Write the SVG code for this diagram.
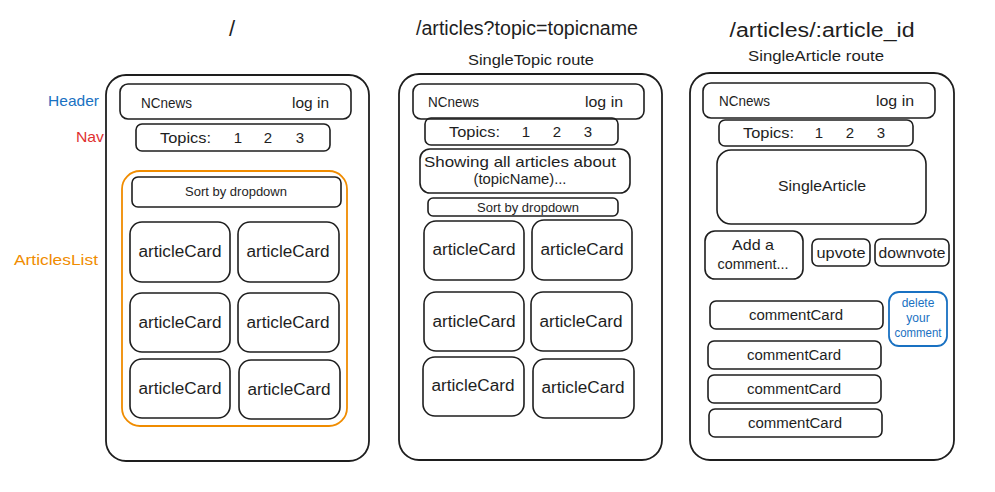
<svg xmlns="http://www.w3.org/2000/svg" width="995" height="492" viewBox="0 0 995 492">
<style>
  .box{fill:none;stroke:#1e1e1e;stroke-width:1.6}
  .frame{fill:none;stroke:#1e1e1e;stroke-width:1.8}
  text{font-family:"Liberation Sans",Arial,sans-serif;fill:#1e1e1e}
  .t16{font-size:16px}
  .t15{font-size:15px}
  .t14{font-size:14px}
  .t13{font-size:13px}
  .t12{font-size:12px}
  .mid{text-anchor:middle}
  .title{font-size:20px}
</style>
<rect width="995" height="492" fill="#ffffff"/>

<!-- labels -->
<g id="label-header"><text x="48" y="106" class="t15" fill="#1971c2" style="fill:#1971c2" textLength="51" lengthAdjust="spacingAndGlyphs">Header</text></g>
<g id="label-nav"><text x="76" y="142" class="t15" style="fill:#e03131" textLength="28" lengthAdjust="spacingAndGlyphs">Nav</text></g>
<g id="label-articleslist"><text x="14" y="265" class="t15" style="fill:#f08c00" textLength="84" lengthAdjust="spacingAndGlyphs">ArticlesList</text></g>

<!-- Panel 1: / -->
<g id="p1-title"><text x="232" y="36" class="mid" style="font-size:22px">/</text></g>
<g id="p1-frame"><rect x="106" y="75" width="263" height="386" rx="20" class="frame"/></g>
<g id="p1-header">
  <rect x="120" y="84" width="231" height="35" rx="8" class="box"/>
  <text x="141" y="108" class="t15" textLength="51" lengthAdjust="spacingAndGlyphs">NCnews</text>
  <text x="292" y="108" class="t15" textLength="37" lengthAdjust="spacingAndGlyphs">log in</text>
</g>
<g id="p1-nav">
  <rect x="136" y="124" width="194" height="27" rx="6" class="box"/>
  <text x="160" y="143" class="t15" textLength="51" lengthAdjust="spacingAndGlyphs">Topics:</text>
  <text x="238" y="143" class="t15 mid">1</text>
  <text x="268" y="143" class="t15 mid">2</text>
  <text x="300" y="143" class="t15 mid">3</text>
</g>
<g id="p1-articleslist"><rect x="122" y="171" width="225" height="255" rx="18" fill="none" stroke="#f08c00" stroke-width="1.8"/></g>
<g id="p1-sort">
  <rect x="132" y="177" width="209" height="30" rx="6" class="box"/>
  <text x="236" y="196" class="t13 mid" textLength="102" lengthAdjust="spacingAndGlyphs">Sort by dropdown</text>
</g>
<g id="p1-card1"><rect x="130" y="222" width="100" height="60" rx="12" class="box"/><text x="180" y="257" class="t16 mid" textLength="83" lengthAdjust="spacingAndGlyphs">articleCard</text></g>
<g id="p1-card2"><rect x="238" y="222" width="101" height="60" rx="12" class="box"/><text x="288" y="257" class="t16 mid" textLength="83" lengthAdjust="spacingAndGlyphs">articleCard</text></g>
<g id="p1-card3"><rect x="130" y="293" width="100" height="59" rx="12" class="box"/><text x="180" y="328" class="t16 mid" textLength="83" lengthAdjust="spacingAndGlyphs">articleCard</text></g>
<g id="p1-card4"><rect x="238" y="293" width="101" height="59" rx="12" class="box"/><text x="288" y="328" class="t16 mid" textLength="83" lengthAdjust="spacingAndGlyphs">articleCard</text></g>
<g id="p1-card5"><rect x="130" y="359" width="100" height="59" rx="12" class="box"/><text x="180" y="394" class="t16 mid" textLength="83" lengthAdjust="spacingAndGlyphs">articleCard</text></g>
<g id="p1-card6"><rect x="239" y="360" width="101" height="59" rx="12" class="box"/><text x="289" y="395" class="t16 mid" textLength="83" lengthAdjust="spacingAndGlyphs">articleCard</text></g>

<!-- Panel 2: /articles?topic=topicname -->
<g id="p2-title">
  <text x="527" y="35" class="title mid" textLength="222" lengthAdjust="spacingAndGlyphs">/articles?topic=topicname</text>
  <text x="531" y="65" class="t15 mid" textLength="126" lengthAdjust="spacingAndGlyphs">SingleTopic route</text>
</g>
<g id="p2-frame"><rect x="399" y="74" width="263" height="386" rx="20" class="frame"/></g>
<g id="p2-header">
  <rect x="413" y="84" width="231" height="35" rx="8" class="box"/>
  <text x="428" y="107" class="t15" textLength="51" lengthAdjust="spacingAndGlyphs">NCnews</text>
  <text x="585" y="107" class="t15" textLength="38" lengthAdjust="spacingAndGlyphs">log in</text>
</g>
<g id="p2-nav">
  <rect x="425" y="118" width="193" height="27" rx="6" class="box"/>
  <text x="449" y="137" class="t15" textLength="51" lengthAdjust="spacingAndGlyphs">Topics:</text>
  <text x="526" y="137" class="t15 mid">1</text>
  <text x="557" y="137" class="t15 mid">2</text>
  <text x="588" y="137" class="t15 mid">3</text>
</g>
<g id="p2-showing">
  <rect x="420" y="149" width="210" height="44" rx="10" class="box"/>
  <text x="520" y="167" class="t15 mid" textLength="192" lengthAdjust="spacingAndGlyphs">Showing all articles about</text>
  <text x="520" y="184" class="t15 mid" textLength="93" lengthAdjust="spacingAndGlyphs">(topicName)...</text>
</g>
<g id="p2-sort">
  <rect x="428" y="198" width="190" height="18" rx="5" class="box"/>
  <text x="528" y="212" class="t12 mid" textLength="102" lengthAdjust="spacingAndGlyphs">Sort by dropdown</text>
</g>
<g id="p2-card1"><rect x="424" y="221" width="100" height="59" rx="12" class="box"/><text x="474" y="255" class="t16 mid" textLength="83" lengthAdjust="spacingAndGlyphs">articleCard</text></g>
<g id="p2-card2"><rect x="532" y="220" width="100" height="60" rx="12" class="box"/><text x="582" y="255" class="t16 mid" textLength="83" lengthAdjust="spacingAndGlyphs">articleCard</text></g>
<g id="p2-card3"><rect x="424" y="292" width="100" height="59" rx="12" class="box"/><text x="474" y="327" class="t16 mid" textLength="83" lengthAdjust="spacingAndGlyphs">articleCard</text></g>
<g id="p2-card4"><rect x="531" y="292" width="101" height="59" rx="12" class="box"/><text x="581" y="327" class="t16 mid" textLength="83" lengthAdjust="spacingAndGlyphs">articleCard</text></g>
<g id="p2-card5"><rect x="423" y="357" width="101" height="59" rx="12" class="box"/><text x="473" y="391" class="t16 mid" textLength="83" lengthAdjust="spacingAndGlyphs">articleCard</text></g>
<g id="p2-card6"><rect x="533" y="359" width="101" height="59" rx="12" class="box"/><text x="583" y="393" class="t16 mid" textLength="83" lengthAdjust="spacingAndGlyphs">articleCard</text></g>

<!-- Panel 3: /articles/:article_id -->
<g id="p3-title">
  <text x="822" y="37" class="title mid" textLength="185" lengthAdjust="spacingAndGlyphs">/articles/:article_id</text>
  <text x="816" y="61" class="t15 mid" textLength="136" lengthAdjust="spacingAndGlyphs">SingleArticle route</text>
</g>
<g id="p3-frame"><rect x="690" y="73" width="264" height="387" rx="20" class="frame"/></g>
<g id="p3-header">
  <rect x="703" y="83" width="232" height="35" rx="8" class="box"/>
  <text x="719" y="106" class="t15" textLength="51" lengthAdjust="spacingAndGlyphs">NCnews</text>
  <text x="876" y="106" class="t15" textLength="38" lengthAdjust="spacingAndGlyphs">log in</text>
</g>
<g id="p3-nav">
  <rect x="719" y="120" width="194" height="26" rx="6" class="box"/>
  <text x="743" y="138" class="t15" textLength="51" lengthAdjust="spacingAndGlyphs">Topics:</text>
  <text x="819" y="138" class="t15 mid">1</text>
  <text x="850" y="138" class="t15 mid">2</text>
  <text x="881" y="138" class="t15 mid">3</text>
</g>
<g id="p3-singlearticle">
  <rect x="717" y="150" width="209" height="74" rx="14" class="box"/>
  <text x="822" y="191" class="t15 mid" textLength="88" lengthAdjust="spacingAndGlyphs">SingleArticle</text>
</g>
<g id="p3-addcomment">
  <rect x="705" y="231" width="98" height="48" rx="10" class="box"/>
  <text x="753" y="250" class="t15 mid" textLength="42" lengthAdjust="spacingAndGlyphs">Add a</text>
  <text x="753" y="269" class="t15 mid" textLength="71" lengthAdjust="spacingAndGlyphs">comment...</text>
</g>
<g id="p3-upvote">
  <rect x="812" y="239" width="58" height="27" rx="6" class="box"/>
  <text x="841" y="258" class="t15 mid" textLength="49" lengthAdjust="spacingAndGlyphs">upvote</text>
</g>
<g id="p3-downvote">
  <rect x="875" y="239" width="74" height="27" rx="6" class="box"/>
  <text x="912" y="258" class="t15 mid" textLength="67" lengthAdjust="spacingAndGlyphs">downvote</text>
</g>
<g id="p3-comment1"><rect x="710" y="301" width="173" height="28" rx="6" class="box"/><text x="796" y="320" class="t14 mid" textLength="94" lengthAdjust="spacingAndGlyphs">commentCard</text></g>
<g id="p3-comment2"><rect x="708" y="341" width="173" height="28" rx="6" class="box"/><text x="794" y="360" class="t14 mid" textLength="94" lengthAdjust="spacingAndGlyphs">commentCard</text></g>
<g id="p3-comment3"><rect x="708" y="375" width="173" height="28" rx="6" class="box"/><text x="794" y="394" class="t14 mid" textLength="94" lengthAdjust="spacingAndGlyphs">commentCard</text></g>
<g id="p3-comment4"><rect x="709" y="409" width="173" height="28" rx="6" class="box"/><text x="795" y="428" class="t14 mid" textLength="94" lengthAdjust="spacingAndGlyphs">commentCard</text></g>
<g id="p3-delete">
  <rect x="889" y="292" width="58" height="54" rx="10" fill="none" stroke="#1971c2" stroke-width="1.8"/>
  <text x="918" y="307" class="t12 mid" style="fill:#1971c2">delete</text>
  <text x="918" y="322" class="t12 mid" style="fill:#1971c2">your</text>
  <text x="918" y="337" class="t12 mid" style="fill:#1971c2" textLength="47" lengthAdjust="spacingAndGlyphs">comment</text>
</g>

<g id="connectors"></g>
</svg>
